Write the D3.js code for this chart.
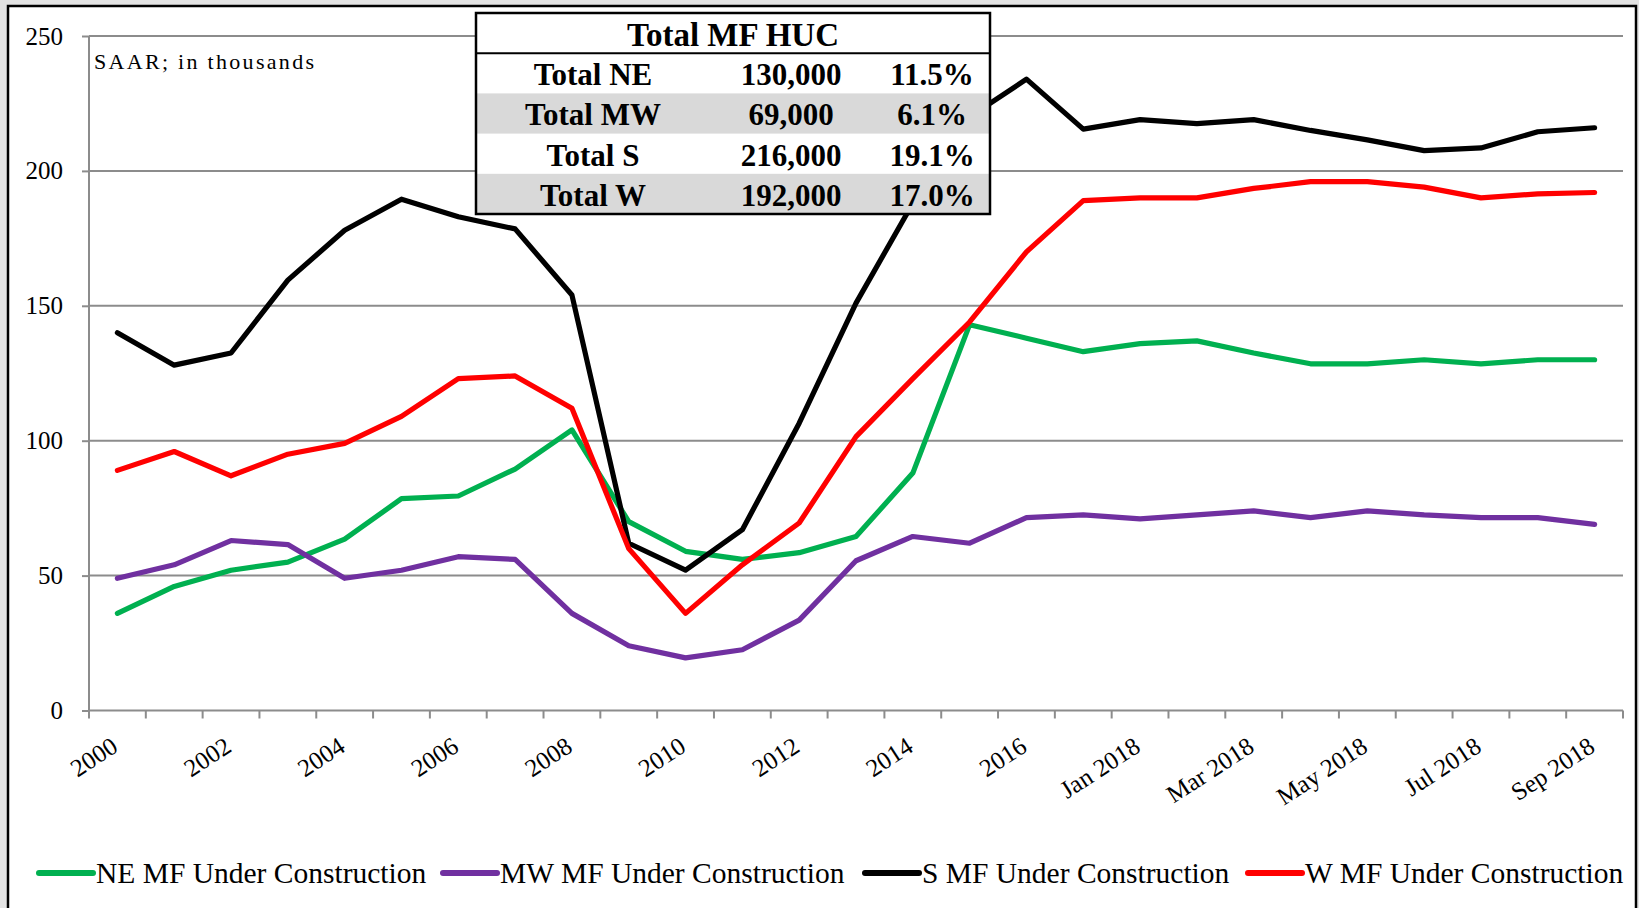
<!DOCTYPE html>
<html lang="en">
<head>
  <meta charset="utf-8">
  <title>MF Under Construction by Region</title>
  <script src="https://d3js.org/d3.v7.min.js"></script>
  <style>
  body { margin: 0; background: #e3e3e3; }
  svg { display: block; font-family: "Liberation Serif", "Times New Roman", serif; }
  .grid line { stroke: #8c8c8c; stroke-width: 2; }
  .axis path, .axis line { stroke: #8c8c8c; stroke-width: 2; }
  </style>
</head>
<body>
<svg width="1639" height="908"></svg>
<script>
// categories: annual 2000-2017, then monthly Feb..Sep 2018
var categories = ["2000","2001","2002","2003","2004","2005","2006","2007","2008","2009",
  "2010","2011","2012","2013","2014","2015","2016","2017",
  "Jan 2018","Feb 2018","Mar 2018","Apr 2018","May 2018","Jun 2018","Jul 2018","Aug 2018","Sep 2018"];

var neValues = [36,46,52,55,63.5,78.5,79.5,89.5,104,70,59,56,58.5,64.5,88,143,138,133,136,137,132.5,128.5,128.5,130,128.5,130,130];
var mwValues = [49,54,63,61.5,49,52,57,56,36,24,19.5,22.5,33.5,55.5,64.5,62,71.5,72.5,71,72.5,74,71.5,74,72.5,71.5,71.5,69];
var sValues  = [140,128,132.5,159.5,178,189.5,183,178.5,154,62,52,67,106.5,151,188,220,234,215.5,219,217.5,219,215,211.5,207.5,208.5,214.5,216];
var wValues  = [89,96,87,95,99,109,123,124,112,60,36,54,69.5,101.5,123,144,170,189,190,190,193.5,196,196,194,190,191.5,192];

var seriesNames = ["NE MF Under Construction","MW MF Under Construction","S MF Under Construction","W MF Under Construction"];
var seriesColors = ["#00b050","#7030a0","#000000","#ff0000"];
var yTicks = [0,50,100,150,200,250];

var tableTitle = "Total MF HUC";
var tableLabels = ["Total NE","Total MW","Total S","Total W"];
var tableValues = ["130,000","69,000","216,000","192,000"];
var tableShares = ["11.5%","6.1%","19.1%","17.0%"];

var svg = d3.select("svg");

// white chart frame
svg.append("rect")
    .attr("x", 8).attr("y", 6)
    .attr("width", 1628).attr("height", 920)
    .attr("fill", "#fff")
    .attr("stroke", "#000")
    .attr("stroke-width", 2.5);

var plotLeft = 89, plotRight = 1623, plotTop = 36, plotBottom = 710.5;

var x = d3.scaleBand()
    .domain(categories)
    .range([plotLeft, plotRight]);

var y = d3.scaleLinear()
    .domain([0, 250])
    .range([plotBottom, plotTop]);

// gridlines
svg.append("g")
    .attr("class", "grid")
    .selectAll("line")
    .data(yTicks.slice(1))
    .enter().append("line")
      .attr("x1", plotLeft).attr("x2", plotRight)
      .attr("y1", function(d) { return y(d); })
      .attr("y2", function(d) { return y(d); });

// y axis
var yAxis = svg.append("g")
    .attr("class", "axis")
    .attr("transform", "translate(" + plotLeft + ",0)")
    .call(d3.axisLeft(y).tickValues(yTicks).tickSize(7).tickPadding(19));
yAxis.select(".domain").attr("d", "M0," + plotTop + "V" + plotBottom);
yAxis.selectAll("text")
    .style("font-family", "'Liberation Serif', serif")
    .style("font-size", "25px")
    .attr("fill", "#000");

// x axis with ticks at category boundaries
var xg = svg.append("g")
    .attr("class", "axis")
    .attr("transform", "translate(0," + plotBottom + ")");
xg.append("line").attr("x1", plotLeft).attr("x2", plotRight);
xg.selectAll(".tk")
    .data(categories.concat(["end"]))
    .enter().append("line")
      .attr("class", "tk")
      .attr("x1", function(d, i) { return plotLeft + i * x.bandwidth(); })
      .attr("x2", function(d, i) { return plotLeft + i * x.bandwidth(); })
      .attr("y1", 0).attr("y2", 8);
xg.selectAll("text")
    .data(categories.filter(function(d, i) { return i % 2 === 0; }))
    .enter().append("text")
      .attr("text-anchor", "end")
      .style("font-family", "'Liberation Serif', serif")
      .style("font-size", "25px")
      .attr("transform", function(d) {
        return "translate(" + (x(d) + x.bandwidth() / 2 + 2) + ",40) rotate(-33)";
      })
      .text(function(d) { return d; });

// lines
var allSeries = [neValues, mwValues, sValues, wValues];
var line = d3.line()
    .x(function(d, i) { return x(categories[i]) + x.bandwidth() / 2; })
    .y(function(d) { return y(d); });

svg.append("g").selectAll("path")
    .data(allSeries)
    .enter().append("path")
      .attr("d", line)
      .attr("fill", "none")
      .attr("stroke", function(d, i) { return seriesColors[i]; })
      .attr("stroke-width", 5.2)
      .attr("stroke-linejoin", "round")
      .attr("stroke-linecap", "round");

svg.append("text")
    .attr("x", 94).attr("y", 69)
    .style("font-size", "22px")
    .style("letter-spacing", "2.3px")
    .text("SAAR; in thousands");

// summary table
var tx = 476, tw = 514, rowH = 40.2, ty = 13;
var table = svg.append("g");
table.append("rect")
    .attr("x", tx).attr("y", ty).attr("width", tw).attr("height", rowH * 5)
    .attr("fill", "#fff");
table.selectAll(".band")
    .data([1, 3])
    .enter().append("rect")
      .attr("x", tx).attr("y", function(d) { return ty + rowH * (d + 1); })
      .attr("width", tw).attr("height", rowH)
      .attr("fill", "#d9d9d9");
table.append("line")
    .attr("x1", tx).attr("x2", tx + tw)
    .attr("y1", ty + rowH).attr("y2", ty + rowH)
    .attr("stroke", "#000").attr("stroke-width", 2);
table.append("rect")
    .attr("x", tx).attr("y", ty).attr("width", tw).attr("height", rowH * 5)
    .attr("fill", "none").attr("stroke", "#000").attr("stroke-width", 2.5);
table.append("text")
    .attr("x", tx + tw / 2).attr("y", ty + rowH / 2 + 1)
    .attr("dy", "0.35em")
    .attr("text-anchor", "middle")
    .style("font-size", "33px").style("font-weight", "bold")
    .text(tableTitle);
var cols = [[593, tableLabels], [791, tableValues], [932, tableShares]];
cols.forEach(function(c) {
  table.selectAll(null)
      .data(c[1])
      .enter().append("text")
        .attr("x", c[0])
        .attr("y", function(d, i) { return ty + rowH * (i + 1) + rowH / 2 + 1; })
        .attr("dy", "0.35em")
        .attr("text-anchor", "middle")
        .style("font-size", "31px").style("font-weight", "bold")
        .text(function(d) { return d; });
});

// legend
var legendX = [37, 441, 863, 1246];
var legend = svg.append("g").selectAll("g")
    .data(seriesNames)
    .enter().append("g")
      .attr("transform", function(d, i) { return "translate(" + legendX[i] + ",873)"; });
legend.append("line")
    .attr("x1", 2).attr("x2", 56)
    .attr("stroke", function(d, i) { return seriesColors[i]; })
    .attr("stroke-width", 6)
    .attr("stroke-linecap", "round");
legend.append("text")
    .attr("x", 59).attr("dy", "0.35em")
    .style("font-size", "29.5px")
    .text(function(d) { return d; });
</script>
</body>
</html>
